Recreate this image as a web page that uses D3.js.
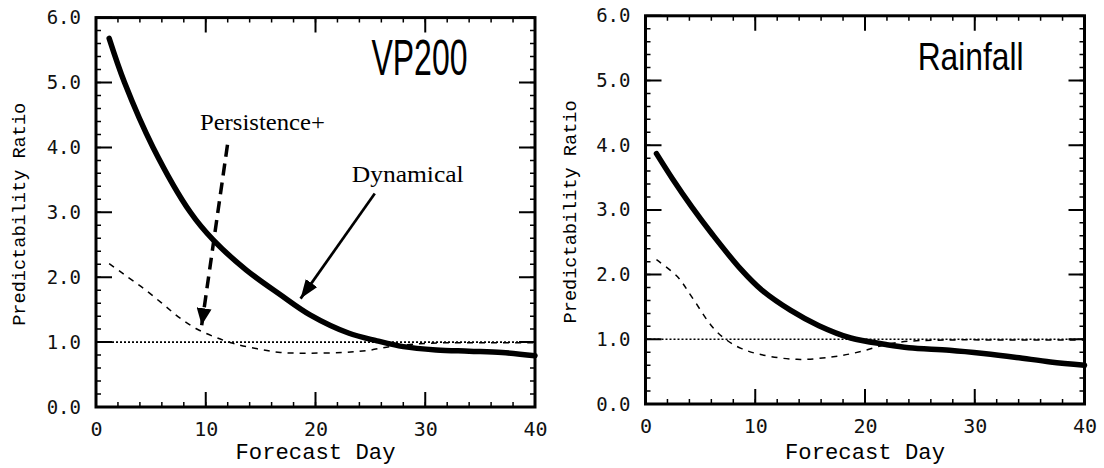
<!DOCTYPE html>
<html><head><meta charset="utf-8">
<script src="https://cdn.jsdelivr.net/npm/d3@7/dist/d3.min.js"></script>
<style>body{margin:0;background:#fff}svg{display:block}</style>
</head><body>
<svg id="c" width="1104" height="468"></svg>
<script>
// ---- data ----
const xTickValues = [0, 10, 20, 30, 40];
const yTickValues = [0, 1, 2, 3, 4, 5, 6];
const panelTitles = ["VP200", "Rainfall"];
const xAxisTitle = "Forecast Day";
const yAxisTitle = "Predictability Ratio";
const annotationLabels = ["Persistence+", "Dynamical"];
const referenceLevel = 1.0;

// VP200 panel
const vpDynDays = [1.2, 2.6, 5.2, 8.6, 10.7, 13.7, 16.8, 19.5, 23, 25.6, 28, 31, 34, 37, 40];
const vpDynVals = [5.68, 5.0, 4.0, 3.0, 2.57, 2.11, 1.73, 1.42, 1.14, 1.02, 0.93, 0.88, 0.86, 0.84, 0.79];
const vpPerDays = [1.2, 2.5, 4.3, 6, 7.5, 9.1, 10.8, 12.5, 14.6, 16.8, 19.5, 22.5, 24.7, 26.8, 29, 32, 36, 40];
const vpPerVals = [2.21, 2.05, 1.83, 1.6, 1.39, 1.21, 1.08, 0.98, 0.90, 0.84, 0.83, 0.84, 0.87, 0.93, 0.97, 0.99, 0.99, 0.99];

// Rainfall panel
const rfDynDays = [1, 2.5, 4.2, 6.1, 8.7, 10.6, 13.2, 15.8, 18.7, 21.9, 24, 27.7, 30.8, 33.8, 36.9, 40];
const rfDynVals = [3.87, 3.47, 3.05, 2.62, 2.08, 1.76, 1.45, 1.21, 1.02, 0.92, 0.87, 0.83, 0.78, 0.72, 0.65, 0.60];
const rfPerDays = [1, 2.9, 4.2, 6.1, 7.3, 8.7, 10.6, 13.8, 17.1, 19.6, 21.9, 24, 28, 32, 36, 40];
const rfPerVals = [2.23, 1.97, 1.66, 1.19, 1.0, 0.86, 0.76, 0.69, 0.73, 0.81, 0.92, 0.97, 0.99, 0.99, 0.99, 0.99];

// ---- layout ----
const svg = d3.select("#c");
const defs = svg.append("defs");
function marker(id, len, wid) {
  defs.append("marker").attr("id", id)
    .attr("markerUnits", "userSpaceOnUse")
    .attr("viewBox", `0 ${-wid/2} ${len} ${wid}`)
    .attr("refX", len).attr("refY", 0)
    .attr("markerWidth", len).attr("markerHeight", wid)
    .attr("orient", "auto")
    .append("path").attr("d", `M0,${-wid/2}L${len},0L0,${wid/2}Z`).attr("fill", "#000");
}
marker("headP", 17, 15);
marker("headD", 19, 14);

const panels = [
  { left: 96, right: 535, top: 17.6, bottom: 407, title: panelTitles[0], titleAt: [25.1, 5.12], titleW: 96, titleSize: 50,
    dyn: d3.zip(vpDynDays, vpDynVals), per: d3.zip(vpPerDays, vpPerVals),
    yTitleX: 25, xTitleY: 459, annotate: true },
  { left: 645.5, right: 1084.5, top: 15.8, bottom: 404, title: panelTitles[1], titleAt: [24.8, 5.16], titleW: 106, titleSize: 39,
    dyn: d3.zip(rfDynDays, rfDynVals), per: d3.zip(rfPerDays, rfPerVals),
    yTitleX: 576, xTitleY: 459, annotate: false }
];

panels.forEach(p => {
  const x = d3.scaleLinear().domain([0, 40]).range([p.left, p.right]);
  const y = d3.scaleLinear().domain([0, 6]).range([p.bottom, p.top]);
  const g = svg.append("g");
  const line = d3.line().x(d => x(d[0])).y(d => y(d[1])).curve(d3.curveCatmullRom.alpha(0.5));

  // reference line
  g.append("path").datum([[0, referenceLevel], [40, referenceLevel]])
    .attr("d", d3.line().x(d => x(d[0])).y(d => y(d[1])))
    .attr("fill", "none").attr("stroke", "#000").attr("stroke-width", 1.6)
    .attr("stroke-dasharray", "2,2");
  // persistence+
  g.append("path").datum(p.per).attr("d", line)
    .attr("fill", "none").attr("stroke", "#000").attr("stroke-width", 1.5)
    .attr("stroke-dasharray", "6,6");
  // dynamical
  g.append("path").datum(p.dyn).attr("d", line)
    .attr("fill", "none").attr("stroke", "#000").attr("stroke-width", 5.5)
    .attr("stroke-linecap", "round");

  // inward ticks on all four sides, built as paths from the scales
  const minorX = d3.range(0, 41, 2), minorY = d3.range(0, 31).map(i => i * 0.2);
  const xTickPath = (vals, len) =>
    vals.map(d => `M${x(d)},${p.bottom}v${-len}M${x(d)},${p.top}v${len}`).join("");
  const yTickPath = (vals, len) =>
    vals.map(d => `M${p.left},${y(d)}h${len}M${p.right},${y(d)}h${-len}`).join("");
  g.append("path").attr("d", xTickPath(minorX, 5) + yTickPath(minorY, 5))
    .attr("fill", "none").attr("stroke", "#000").attr("stroke-width", 1.5);
  g.append("path").attr("d", xTickPath(xTickValues, 15) + yTickPath(yTickValues, 16))
    .attr("fill", "none").attr("stroke", "#000").attr("stroke-width", 2);

  // frame
  g.append("rect").attr("x", p.left).attr("y", p.top)
    .attr("width", p.right - p.left).attr("height", p.bottom - p.top)
    .attr("fill", "none").attr("stroke", "#000").attr("stroke-width", 3);

  // tick labels
  const xl = g.append("g").attr("transform", `translate(0,${p.bottom})`)
    .call(d3.axisBottom(x).tickValues(xTickValues).tickSize(0).tickPadding(15).tickFormat(d3.format("d")));
  xl.select(".domain").remove();
  xl.attr("font-family", "DejaVu Sans Mono").attr("font-size", 20);
  xl.selectAll("text").attr("fill", "#111");
  const yl = g.append("g").attr("transform", `translate(${p.left},0)`)
    .call(d3.axisLeft(y).tickValues(yTickValues).tickSize(0).tickPadding(15).tickFormat(d3.format(".1f")));
  yl.select(".domain").remove();
  yl.attr("font-family", "DejaVu Sans Mono").attr("font-size", 19);
  yl.selectAll("text").attr("fill", "#111");

  // axis titles
  g.append("text").attr("x", (p.left + p.right) / 2).attr("y", p.xTitleY)
    .attr("text-anchor", "middle").attr("font-family", "Liberation Mono").attr("font-size", 22)
    .attr("textLength", 160).attr("lengthAdjust", "spacingAndGlyphs").text(xAxisTitle);
  g.append("text").attr("transform", `translate(${p.yTitleX},${(p.top + p.bottom) / 2 + 2}) rotate(-90)`)
    .attr("text-anchor", "middle").attr("font-family", "Liberation Mono").attr("font-size", 18.5)
    .attr("textLength", 223).attr("lengthAdjust", "spacingAndGlyphs").text(yAxisTitle);

  // panel title
  g.append("text").attr("x", x(p.titleAt[0])).attr("y", y(p.titleAt[1]))
    .attr("font-family", "Liberation Sans").attr("font-size", p.titleSize)
    .attr("textLength", p.titleW).attr("lengthAdjust", "spacingAndGlyphs").text(p.title);

  if (p.annotate) {
    g.append("text").attr("x", x(9.47)).attr("y", y(4.27))
      .attr("font-family", "Liberation Serif").attr("font-size", 24)
      .attr("textLength", 125).attr("lengthAdjust", "spacingAndGlyphs").text(annotationLabels[0]);
    g.append("text").attr("x", x(23.3)).attr("y", y(3.47))
      .attr("font-family", "Liberation Serif").attr("font-size", 23)
      .attr("textLength", 112).attr("lengthAdjust", "spacingAndGlyphs").text(annotationLabels[1]);
    g.append("line").attr("x1", x(11.98)).attr("y1", y(4.04)).attr("x2", x(9.63)).attr("y2", y(1.26))
      .attr("stroke", "#000").attr("stroke-width", 3.5).attr("stroke-dasharray", "12,7")
      .attr("marker-end", "url(#headP)");
    g.append("line").attr("x1", x(25.4)).attr("y1", y(3.29)).attr("x2", x(18.64)).attr("y2", y(1.67))
      .attr("stroke", "#000").attr("stroke-width", 2.7)
      .attr("marker-end", "url(#headD)");
  }
});
</script>
</body></html>
